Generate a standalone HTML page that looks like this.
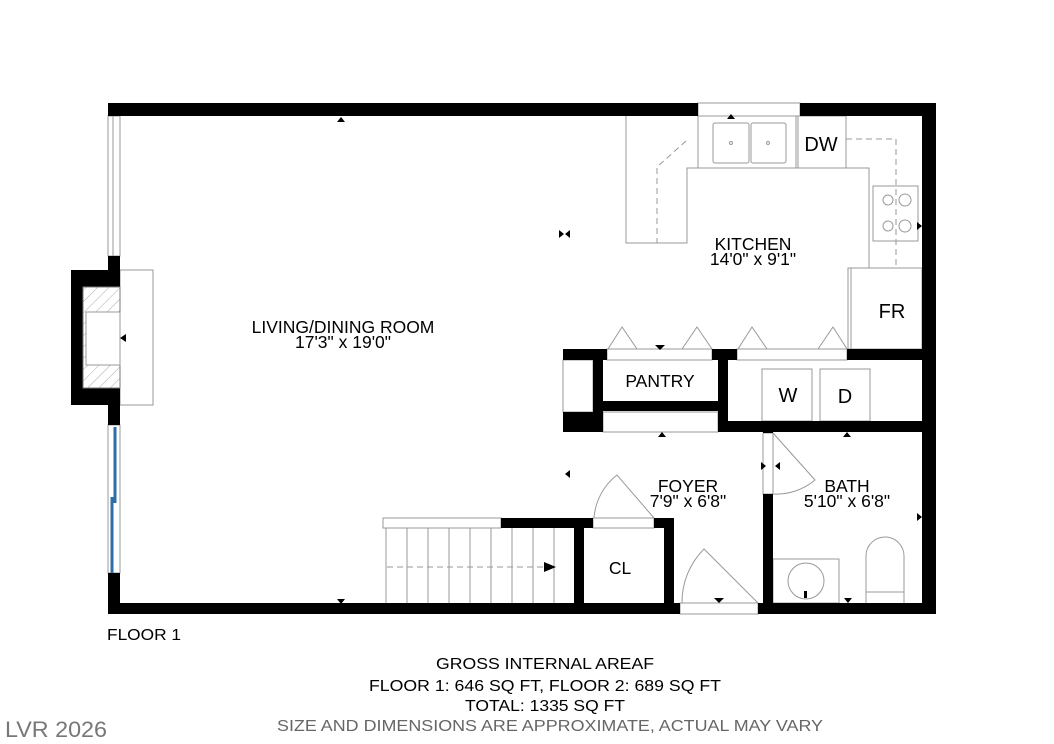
<!DOCTYPE html>
<html><head><meta charset="utf-8"><style>
html,body{margin:0;padding:0;background:#fff;}
svg{display:block;}
text{font-family:"Liberation Sans",Arial,sans-serif;fill:#000;}
</style></head><body>
<svg width="1054" height="744" viewBox="0 0 1054 744" xmlns="http://www.w3.org/2000/svg">
<defs>
<pattern id="h" width="8" height="8" patternUnits="userSpaceOnUse" patternTransform="rotate(45)">
<line x1="0" y1="0" x2="0" y2="8" stroke="#888" stroke-width="0.7"/></pattern>
</defs>
<g fill="none" stroke="#999" stroke-width="1">
<rect x="120" y="270" width="33" height="135"/>
<polyline points="626,116 626,243 687,243 687,168 869,168 869,268"/>
<rect x="698" y="116" width="100" height="52"/>
<rect x="796" y="116" width="50" height="52"/>
<rect x="713" y="123" width="36" height="40" rx="2"/>
<rect x="751" y="123" width="35" height="40" rx="2"/>
<circle cx="731" cy="143" r="1.5"/><circle cx="768" cy="143" r="1.5"/>
<rect x="873" y="186" width="45" height="55"/>
<circle cx="888" cy="200" r="5"/><circle cx="905" cy="200" r="6"/>
<circle cx="888" cy="226" r="5"/><circle cx="905" cy="226" r="6"/>
<rect x="848" y="268" width="74" height="81"/>
<line x1="851" y1="268" x2="851" y2="349"/>
<rect x="762" y="369" width="50" height="52"/>
<rect x="820" y="369" width="50" height="52"/>
<rect x="773" y="559" width="66" height="44"/>
<circle cx="806" cy="581" r="18"/>
<path d="M866,603 V556 A19,19 0 0 1 904,556 V603"/>
<line x1="866" y1="592" x2="904" y2="592"/>
<rect x="383" y="518" width="118" height="10"/>
</g>
<g fill="none" stroke="#999" stroke-width="1" stroke-dasharray="6,4">
<polyline points="686,141 657,167 657,243"/>
<polyline points="846,139 896,139 896,268"/>
<line x1="387" y1="567" x2="545" y2="567"/>
<line x1="578" y1="365" x2="578" y2="408"/>
<line x1="606" y1="422" x2="716" y2="422"/>
</g>
<g stroke="#999" stroke-width="1">
<line x1="386" y1="528" x2="386" y2="603"/><line x1="407" y1="528" x2="407" y2="603"/>
<line x1="428" y1="528" x2="428" y2="603"/><line x1="449" y1="528" x2="449" y2="603"/>
<line x1="470" y1="528" x2="470" y2="603"/><line x1="491" y1="528" x2="491" y2="603"/>
<line x1="512" y1="528" x2="512" y2="603"/><line x1="533" y1="528" x2="533" y2="603"/>
<line x1="554" y1="528" x2="554" y2="603"/>
</g>
<g fill="#fff" stroke="#999" stroke-width="1">
<rect x="698" y="103" width="102" height="13"/>
<rect x="108" y="116" width="12" height="140"/>
<rect x="108" y="425" width="12" height="148"/>
<rect x="680" y="603" width="78" height="11"/>
<rect x="607" y="349" width="105" height="11"/>
<rect x="737" y="349" width="110" height="11"/>
<rect x="603" y="412" width="115" height="20"/>
<rect x="593" y="518" width="61" height="10"/>
<rect x="763" y="433" width="10" height="61"/>
<rect x="563" y="360" width="30" height="52"/>
</g>
<line x1="113" y1="116" x2="113" y2="256" stroke="#999"/>
<g stroke="#2f6ea8" stroke-width="3">
<line x1="115" y1="427" x2="115" y2="503"/>
<line x1="112" y1="497" x2="112" y2="573"/>
</g>
<rect x="71" y="270" width="49" height="135" fill="#000"/>
<rect x="83" y="287" width="37" height="101" fill="#fff"/>
<rect x="83" y="287" width="37" height="101" fill="url(#h)" stroke="#777"/>
<rect x="86" y="312" width="34" height="53" fill="#fff" stroke="#999"/>
<g fill="#000">
<rect x="108" y="103" width="590" height="13"/>
<rect x="800" y="103" width="136" height="13"/>
<rect x="922" y="103" width="14" height="511"/>
<rect x="108" y="103" width="12" height="13"/>
<rect x="108" y="256" width="12" height="14"/>
<rect x="108" y="405" width="12" height="20"/>
<rect x="108" y="573" width="12" height="41"/>
<rect x="108" y="603" width="572" height="11"/>
<rect x="758" y="603" width="178" height="11"/>
<rect x="563" y="349" width="44" height="11"/>
<rect x="712" y="349" width="25" height="11"/>
<rect x="847" y="349" width="89" height="11"/>
<rect x="593" y="349" width="10" height="83"/>
<rect x="563" y="412" width="40" height="20"/>
<rect x="593" y="401" width="129" height="10"/>
<rect x="718" y="349" width="10" height="83"/>
<rect x="718" y="421" width="218" height="11"/>
<rect x="763" y="421" width="10" height="12"/>
<rect x="763" y="494" width="10" height="120"/>
<rect x="501" y="518" width="92" height="10"/>
<rect x="654" y="518" width="20" height="10"/>
<rect x="574" y="518" width="10" height="90"/>
<rect x="664" y="518" width="10" height="90"/>
</g>
<g fill="none" stroke="#999" stroke-width="1">
<path d="M773,433 L815,480 A60,60 0 0 1 773,494"/>
<path d="M594,518 A60,60 0 0 1 617,475 L654,518"/>
<path d="M682,603 A75,75 0 0 1 704,549 L758,603"/>
<path d="M608,349 L622,327 L637,349 M682,349 L697,327 L712,349 M738,349 L752,327 L767,349 M818,349 L833,327 L847,349"/>
</g>
<g fill="#000">
<path d="M337,122 L341,117 L345,122Z"/>
<path d="M337,599 L341,604 L345,599Z"/>
<path d="M727,119 L731,114 L735,119Z"/>
<path d="M559,230 L564,234 L559,238Z M570,230 L565,234 L570,238Z"/>
<path d="M120,338 L126,334 L126,342Z"/>
<path d="M917,222 L922,226 L917,230Z"/>
<path d="M655,345 L660,350 L665,345Z"/>
<path d="M658,437 L662,432 L666,437Z"/>
<path d="M843,437 L847,432 L851,437Z"/>
<path d="M570,470 L565,474 L570,478Z"/>
<path d="M761,462 L766,466 L761,470Z M780,462 L775,466 L780,470Z"/>
<path d="M917,513 L922,517 L917,521Z"/>
<path d="M544,562 L556,567 L544,572Z"/>
<path d="M714,598 L719,603 L724,598Z"/>
<path d="M844,598 L848,603 L852,598Z"/>
<rect x="804" y="591" width="3" height="7"/>
</g>
<g font-size="17.5" text-anchor="middle">
<text x="343" y="333">LIVING/DINING ROOM</text>
<text x="343" y="348">17'3" x 19'0"</text>
<text x="753" y="250">KITCHEN</text>
<text x="753" y="265">14'0" x 9'1"</text>
<text x="688" y="492">FOYER</text>
<text x="688" y="507">7'9" x 6'8"</text>
<text x="847" y="492">BATH</text>
<text x="847" y="507">5'10" x 6'8"</text>
<text x="660" y="387">PANTRY</text>
<text x="620" y="574">CL</text>
</g>
<g font-size="20" text-anchor="middle">
<text x="821" y="151">DW</text>
<text x="892" y="318">FR</text>
<text x="788" y="402">W</text>
<text x="845" y="403">D</text>
</g>
<text x="107" y="640" font-size="16" textLength="74" lengthAdjust="spacingAndGlyphs">FLOOR 1</text>
<g font-size="16" text-anchor="middle">
<text x="545" y="669" textLength="218" lengthAdjust="spacingAndGlyphs">GROSS INTERNAL AREAF</text>
<text x="545" y="691" textLength="352" lengthAdjust="spacingAndGlyphs">FLOOR 1: 646 SQ FT, FLOOR 2: 689 SQ FT</text>
<text x="545" y="711" textLength="160" lengthAdjust="spacingAndGlyphs">TOTAL: 1335 SQ FT</text>
<text x="550" y="731" textLength="546" lengthAdjust="spacingAndGlyphs" style="fill:#666">SIZE AND DIMENSIONS ARE APPROXIMATE, ACTUAL MAY VARY</text>
</g>
<text x="5" y="737" font-size="22" style="fill:#777" textLength="102" lengthAdjust="spacingAndGlyphs">LVR 2026</text>
</svg>
</body></html>
